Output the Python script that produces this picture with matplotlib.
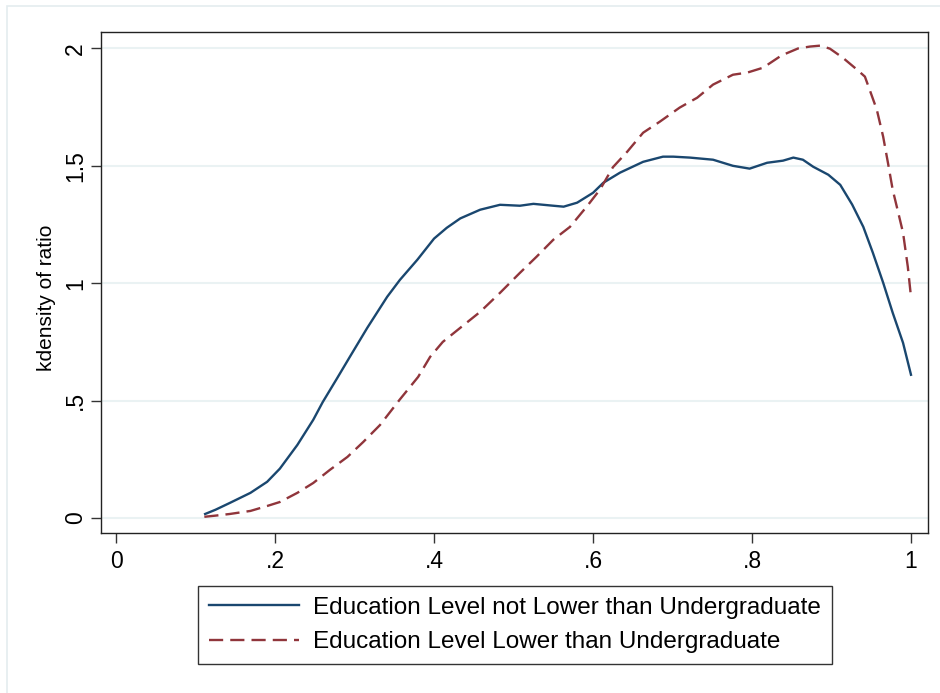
import matplotlib.pyplot as plt
from matplotlib.patches import Rectangle

plt.rcParams['font.family'] = ['Liberation Sans', 'DejaVu Sans']

# kernel density estimates of ratio, by education group
x_not_lower = [0.112, 0.125, 0.143, 0.169, 0.190, 0.206, 0.228, 0.248, 0.260, 0.278,
               0.294, 0.316, 0.341, 0.357, 0.379, 0.400, 0.416, 0.433, 0.458, 0.483,
               0.508, 0.525, 0.550, 0.563, 0.580, 0.600, 0.613, 0.634, 0.663, 0.688,
               0.701, 0.722, 0.751, 0.776, 0.797, 0.819, 0.839, 0.852, 0.864, 0.877,
               0.896, 0.911, 0.926, 0.940, 0.952, 0.965, 0.977, 0.990, 1.000]
y_not_lower = [0.017, 0.035, 0.064, 0.107, 0.154, 0.210, 0.311, 0.418, 0.494, 0.595,
               0.686, 0.810, 0.942, 1.014, 1.100, 1.190, 1.236, 1.276, 1.313, 1.334,
               1.330, 1.338, 1.330, 1.326, 1.343, 1.385, 1.428, 1.471, 1.517, 1.539,
               1.539, 1.535, 1.526, 1.500, 1.488, 1.513, 1.522, 1.535, 1.526, 1.496,
               1.462, 1.419, 1.335, 1.240, 1.130, 1.002, 0.874, 0.746, 0.610]

x_lower = [0.111, 0.125, 0.143, 0.169, 0.190, 0.206, 0.228, 0.248, 0.269, 0.291,
           0.311, 0.332, 0.357, 0.380, 0.395, 0.411, 0.433, 0.458, 0.483, 0.508,
           0.529, 0.550, 0.571, 0.592, 0.609, 0.625, 0.643, 0.663, 0.684, 0.709,
           0.731, 0.751, 0.776, 0.794, 0.814, 0.837, 0.858, 0.873, 0.886, 0.898,
           0.914, 0.932, 0.942, 0.948, 0.957, 0.965, 0.971, 0.977, 0.984, 0.990,
           0.996, 1.000]
y_lower = [0.005, 0.010, 0.017, 0.030, 0.051, 0.068, 0.107, 0.149, 0.205, 0.260,
           0.324, 0.396, 0.505, 0.601, 0.686, 0.750, 0.810, 0.878, 0.959, 1.044,
           1.113, 1.185, 1.240, 1.326, 1.400, 1.494, 1.560, 1.641, 1.688, 1.748,
           1.790, 1.846, 1.888, 1.897, 1.918, 1.970, 2.000, 2.008, 2.012, 1.999,
           1.961, 1.910, 1.880, 1.824, 1.739, 1.624, 1.513, 1.398, 1.300, 1.215,
           1.070, 0.942]

x_ticks = [0, 0.2, 0.4, 0.6, 0.8, 1]
x_labels = ['0', '.2', '.4', '.6', '.8', '1']
y_ticks = [0, 0.5, 1, 1.5, 2]
y_labels = ['0', '.5', '1', '1.5', '2']

fig = plt.figure(figsize=(9.4, 6.93), dpi=100)
ax = fig.add_axes([101 / 940, 1 - 533 / 693, 827 / 940, 501 / 693])

# light outer frame of the graph region
fig.patches.append(Rectangle((7 / 940, -0.1), 1.2, 1.1 - 6 / 693, transform=fig.transFigure,
                             fill=False, edgecolor='#e4ecef', linewidth=1.2))

ax.plot(x_not_lower, y_not_lower, color='#1a476f', linewidth=1.7,
        label='Education Level not Lower than Undergraduate')
ax.plot(x_lower, y_lower, color='#90353b', linewidth=1.7, dashes=(6, 3),
        label='Education Level Lower than Undergraduate')

ax.set_xlim(-0.019, 1.0214)
ax.set_ylim(-0.064, 2.070)
ax.set_xticks(x_ticks)
ax.set_xticklabels(x_labels)
ax.set_yticks(y_ticks)
ax.set_yticklabels(y_labels, rotation=90, va='center')
ax.tick_params(axis='both', direction='out', length=7, width=1, labelsize=16.5, color='#333333')
ax.tick_params(axis='x', pad=5)
ax.tick_params(axis='y', pad=3)
ax.grid(axis='y', color='#eaf2f3', linewidth=1.5)
ax.set_axisbelow(True)
for spine in ax.spines.values():
    spine.set_color('#222222')
    spine.set_linewidth(1.0)

ax.set_ylabel('kdensity of ratio', fontsize=15)
ax.yaxis.set_label_coords(-0.055, 0.47)

leg = ax.legend(loc='upper left', bbox_to_anchor=(198 / 940, 1 - 586 / 693),
                bbox_transform=fig.transFigure, fontsize=17.5, frameon=True, fancybox=False,
                handlelength=3.7, handletextpad=0.57, labelspacing=0.5, borderpad=0.45,
                borderaxespad=0)
leg.get_frame().set_edgecolor('black')
leg.get_frame().set_linewidth(1.0)

fig.savefig('out.png', dpi=100)
